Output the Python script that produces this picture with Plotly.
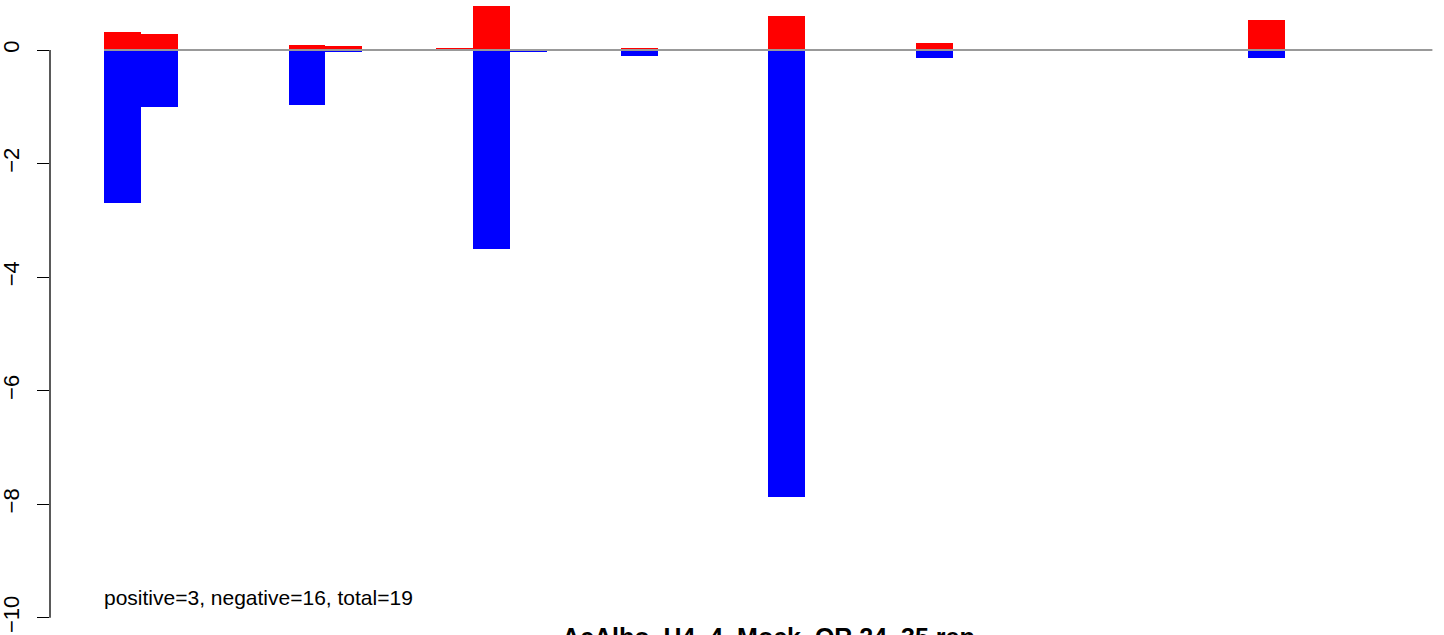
import plotly.graph_objects as go

# 36 bar slots (index 0..35)
n_slots = 36
slots = list(range(n_slots))
pos_vals = [0.0] * n_slots
neg_vals = [0.0] * n_slots

pos_points = {0: 0.32, 1: 0.28, 5: 0.09, 6: 0.07, 9: 0.035, 10: 0.775,
              14: 0.035, 18: 0.60, 22: 0.12, 31: 0.53}
neg_points = {0: -2.69, 1: -1.00, 5: -0.97, 6: -0.035, 10: -3.50,
              11: -0.03, 14: -0.105, 18: -7.87, 22: -0.14, 31: -0.135}
for k, v in pos_points.items():
    pos_vals[k] = v
for k, v in neg_points.items():
    neg_vals[k] = v

y_ticks = [0, -2, -4, -6, -8, -10]
summary_text = "positive=3, negative=16, total=19"
title_text = "AcAlbo_H4_4_Mock_OR 24_35 rep"

FONT = "Liberation Sans, Arial, Helvetica, sans-serif"

x_centers = [s + 0.5 for s in slots]

fig = go.Figure()
fig.add_trace(go.Bar(x=x_centers, y=pos_vals, width=1.0,
                     marker=dict(color="#ff0000", line=dict(width=0)),
                     showlegend=False, hoverinfo="skip"))
fig.add_trace(go.Bar(x=x_centers, y=neg_vals, width=1.0,
                     marker=dict(color="#0000ff", line=dict(width=0)),
                     showlegend=False, hoverinfo="skip"))
fig.add_trace(go.Scatter(x=[0, n_slots], y=[0, 0], mode="lines",
                         line=dict(color="#999999", width=2),
                         showlegend=False, hoverinfo="skip"))

W, H = 1444, 635
px_per_slot = 36.9
x0_px = 104
left_px = 50
y0_px = 50
px_per_unit = 56.77

x_range = [-(x0_px - left_px) / px_per_slot, (W - x0_px) / px_per_slot]
y_range = [-(H - y0_px) / px_per_unit, y0_px / px_per_unit]

fig.update_layout(
    width=W, height=H,
    margin=dict(l=left_px, r=0, t=0, b=0),
    plot_bgcolor="white", paper_bgcolor="white",
    barmode="relative", bargap=0,
    xaxis=dict(range=x_range, visible=False),
    yaxis=dict(range=y_range, tickvals=y_ticks, ticks="outside", ticklen=12,
               tickwidth=1.3, tickcolor="black", showgrid=False,
               zeroline=False, showline=False, tickangle=-90,
               ticklabelstandoff=9,
               tickfont=dict(family=FONT, size=22, color="black")),
    font=dict(family=FONT, color="black"),
)

fig.add_shape(type="line", xref="paper", yref="y", x0=0, x1=0,
              y0=max(y_ticks), y1=min(y_ticks),
              line=dict(color="black", width=1.3))

fig.add_annotation(x=-0.05, y=-9.65, xref="x", yref="y", text=summary_text,
                   showarrow=False, xanchor="left", yanchor="middle",
                   font=dict(family=FONT, size=21, color="black"))

fig.add_annotation(x=n_slots / 2, y=(H - 637) / H, xref="x",
                   yref="paper", text="<b>" + title_text + "</b>",
                   showarrow=False, xanchor="center", yanchor="middle",
                   font=dict(family=FONT, size=25, color="black"))

fig.write_html(
    "out.html",
    config={"displayModeBar": False},
    post_script="document.body.style.margin='0';document.body.style.overflow='hidden';",
)
